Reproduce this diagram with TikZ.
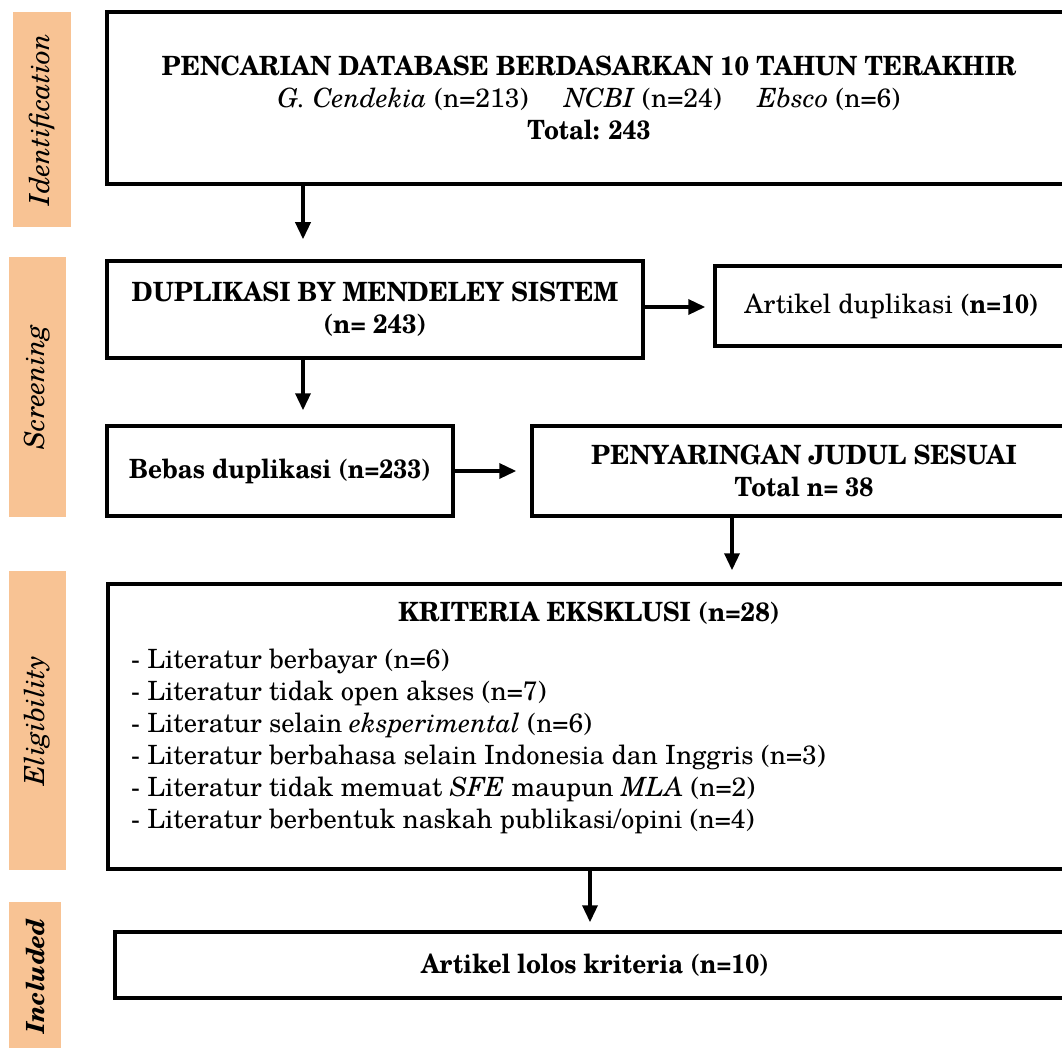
\documentclass[tikz,border=0pt]{standalone}
\usepackage{fontspec}
\setmainfont{texgyreschola}[Extension=.otf, UprightFont=*-regular, BoldFont=*-bold, ItalicFont=*-italic, BoldItalicFont=*-bolditalic, BoldFeatures={FakeStretch=0.92}]
\newfontfamily\capsbf{texgyreschola-bold}[Extension=.otf, FakeStretch=0.955]
\usetikzlibrary{arrows.meta}
\definecolor{peach}{HTML}{F8C394}
\newcommand\fsz{\fontsize{26.5}{32}\selectfont}
\begin{document}
\begin{tikzpicture}[x=1pt,y=-1pt,
  box/.style={draw, line width=3.5pt, inner sep=0pt, align=center, font=\fsz},
  sidebar/.style={fill=peach, rotate=90, inner sep=0pt, font=\fontsize{27.7}{32}\selectfont\itshape},
  txt/.style={inner sep=0pt, align=left, font=\fsz},
  arr/.style={line width=3.5pt, -{Triangle[length=17pt,width=15pt]}}]
\useasboundingbox (0,0) rectangle (1062,1048);
\clip (0,0) rectangle (1062,1048);
% side bars
\node[sidebar, minimum width=215pt, minimum height=58pt] (idb) at (42,119.5) {Identification};
\node[sidebar, minimum width=260pt, minimum height=57pt] (scb) at (37.5,387) {Screening};
\node[sidebar, minimum width=299pt, minimum height=57pt] (elb) at (37.5,720.5) {Eligibility};
\node[sidebar, minimum width=148pt, minimum height=52pt, font=\fontsize{25}{30}\selectfont\bfseries\itshape] (inb) at (35,976) {Included};
% boxes
\node[box, minimum width=964pt, minimum height=172pt] (db) at (589,98)
  {{\capsbf PENCARIAN DATABASE BERDASARKAN 10 TAHUN TERAKHIR}\\
   \textit{G. Cendekia} (n=213)\hspace{36pt}\textit{NCBI} (n=24)\hspace{36pt}\textit{Ebsco} (n=6)\\
   \textbf{Total: 243}};
\node[box, minimum width=536pt, minimum height=97pt, font=\fsz\capsbf] (dup) at (375,309.5)
  {DUPLIKASI BY MENDELEY SISTEM\\(n= 243)};
\node[box, minimum width=353pt, minimum height=80pt] (art) at (891.5,306)
  {Artikel duplikasi \textbf{(n=10)}};
\node[box, minimum width=346pt, minimum height=90pt, font=\fsz\bfseries] (bebas) at (280,471)
  {Bebas duplikasi (n=233)};
\node[box, minimum width=544pt, minimum height=90pt, font=\fsz\bfseries] (judul) at (804,471)
  {{\capsbf PENYARINGAN JUDUL SESUAI}\\Total n= 38};
\node[box, minimum width=962pt, minimum height=285pt] (kri) at (589,726.5) {};
\node[txt, font=\fsz\capsbf] (krit) at (589,613) {KRITERIA EKSKLUSI (n=28)};
\node[txt, anchor=west] (kril) at (131,741.5)
  {- Literatur berbayar (n=6)\\
   - Literatur tidak open akses (n=7)\\
   - Literatur selain \textit{eksperimental} (n=6)\\
   - Literatur berbahasa selain Indonesia dan Inggris (n=3)\\
   - Literatur tidak memuat \textit{SFE} maupun \textit{MLA} (n=2)\\
   - Literatur berbentuk naskah publikasi/opini (n=4)};
\node[box, minimum width=960pt, minimum height=66pt, font=\fsz\bfseries] (lolos) at (595,965)
  {Artikel lolos kriteria (n=10)};
% connectors
\coordinate (c1) at (303,0);
\coordinate (r1) at (0,307);
\coordinate (c3) at (732,0);
\coordinate (c4) at (590,0);
\draw[arr, shorten >=20pt] (db.south -| c1) -- (dup.north -| c1);
\draw[arr, shorten >=8pt] (dup.east |- r1) -- (art.west |- r1);
\draw[arr, shorten >=14pt] (dup.south -| c1) -- (bebas.north -| c1);
\draw[arr, shorten >=14pt] (bebas.east) -- (judul.west);
\draw[arr, shorten >=12pt] (judul.south -| c3) -- (kri.north -| c3);
\draw[arr, shorten >=8pt] (kri.south -| c4) -- (lolos.north -| c4);
\end{tikzpicture}
\end{document}
